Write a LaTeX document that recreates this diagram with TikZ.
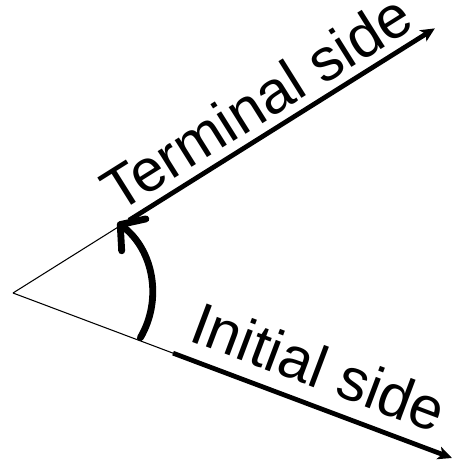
\documentclass[tikz,border=0pt]{standalone}
\usepackage{fontspec}
\setmainfont{Liberation Sans}
\usetikzlibrary{arrows.meta, calc}

\begin{document}
\begin{tikzpicture}[x=0.02cm, y=0.02cm,
    thin side/.style={line width=0.6pt},
    thick side/.style={line width=2.7pt, -{Stealth[length=2.8mm, width=2.6mm, inset=0.7mm]}},
    turn/.style={line width=3.9pt, line cap=round,
        -{Straight Barb[length=3.4mm, width=8mm, round]}},
    sidetext/.style={font=\fontsize{34}{40}\selectfont, inner sep=0pt}]

    \useasboundingbox (0, 0) rectangle (453, 461);

    % 1. Vertice y lados
    \coordinate (O) at (13, 168);
    \coordinate (Tstart) at ($(O)+(32.1:137)$);
    \coordinate (Tend) at ($(O)+(32.1:498)$);
    \coordinate (Istart) at ($(O)+(-20.6:171)$);
    \coordinate (Iend) at ($(O)+(-20.6:469)$);

    % 2. Lado inicial
    \draw[thin side] (O) -- (Istart);
    \draw[thick side] (Istart) -- (Iend);
    \node (initial) [sidetext, rotate=-20.6, anchor=base west] at (187, 121) {Initial side};

    % 3. Lado terminal
    \draw[thin side] (O) -- (Tstart);
    \draw[thick side] (Tstart) -- (Tend);
    \node (terminal) [sidetext, rotate=32.1, anchor=base west] at (118, 247) {Terminal side};

    % 4. Angulo
    \coordinate (C) at (64, 168);
    \draw[turn] ($(C)+(-30.3:88.5)$) arc[start angle=-30.3, end angle=52.8, radius=88.5];

\end{tikzpicture}
\end{document}
